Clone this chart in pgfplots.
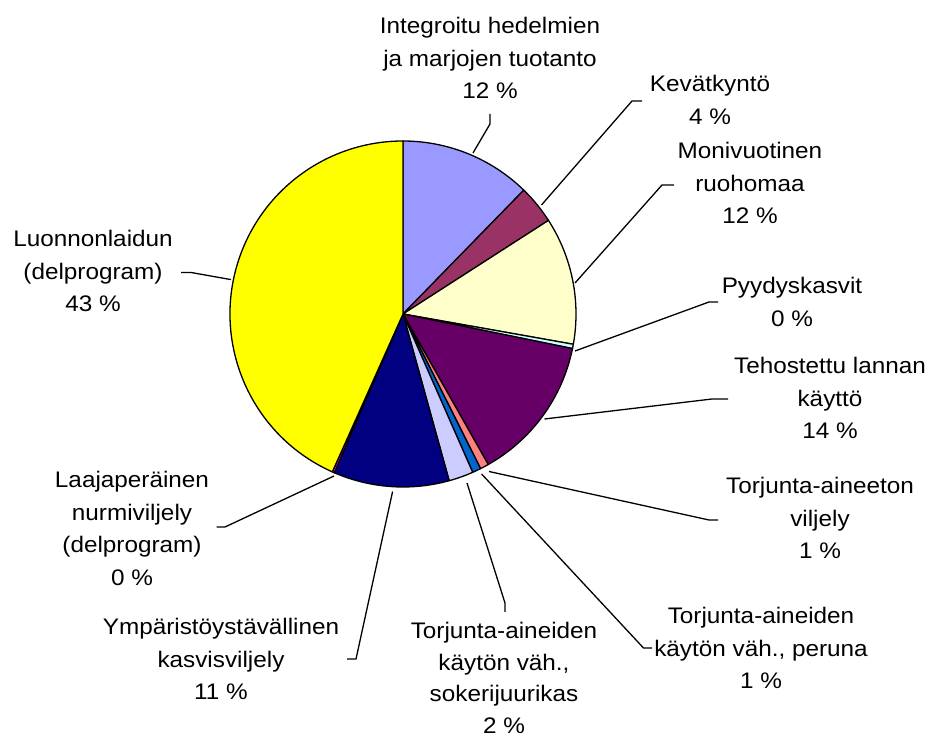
\documentclass[border=0pt]{standalone}
\usepackage{pgfplots}
\pgfplotsset{compat=1.18}
\usepackage{fontspec}
\setmainfont{Liberation Sans}[FakeStretch=1.08]
\definecolor{c1}{HTML}{9999FF}
\definecolor{c2}{HTML}{993366}
\definecolor{c3}{HTML}{FFFFCC}
\definecolor{c4}{HTML}{CCFFFF}
\definecolor{c5}{HTML}{660066}
\definecolor{c6}{HTML}{FF8080}
\definecolor{c7}{HTML}{0066CC}
\definecolor{c8}{HTML}{CCCCFF}
\definecolor{c9}{HTML}{000080}
\definecolor{c10}{HTML}{FF00FF}
\definecolor{c11}{HTML}{FFFF00}
\tikzset{lbl/.style={font=\fontsize{22.5}{32.5}\selectfont, align=center, inner sep=0pt, anchor=center}}
% share (%) / colour, clockwise from 12 o'clock
\def\pievalues{12.3/c1, 3.6/c2, 11.9/c3, 0.4/c4, 13.6/c5, 0.8/c6, 0.8/c7, 2.3/c8, 10.8/c9, 0.2/c10, 43.3/c11}
\begin{document}
\begin{tikzpicture}
\begin{axis}[
  x=1pt, y=1pt,
  xmin=0, xmax=930, ymin=0, ymax=742,
  hide axis, clip=false,
]
\addplot[draw=none] coordinates {(0,0) (930,742)};
\pgfplotsextra{
  \gdef\startang{90}
  \foreach \v/\c in \pievalues {
    \pgfmathsetmacro\endang{\startang-3.6*\v}
    \filldraw[fill=\c, draw=black, line width=1.3pt, line join=round]
      (axis cs:403,428) -- ++(\startang:173pt)
      arc[start angle=\startang, end angle=\endang, radius=173pt] -- cycle;
    \xdef\startang{\endang}
  }
}
% leader lines
\draw[line width=1.3pt] (axis cs:490,628) -- (axis cs:490,618) -- (axis cs:473,589);
\draw[line width=1.3pt] (axis cs:642,641) -- (axis cs:632,641) -- (axis cs:541.5,537);
\draw[line width=1.3pt] (axis cs:674,557) -- (axis cs:662,557) -- (axis cs:575,459);
\draw[line width=1.3pt] (axis cs:718,440) -- (axis cs:709,440) -- (axis cs:575,391);
\draw[line width=1.3pt] (axis cs:728,343) -- (axis cs:712,343) -- (axis cs:544.5,323);
\draw[line width=1.3pt] (axis cs:718,222) -- (axis cs:709,222) -- (axis cs:489,270.5);
\draw[line width=1.3pt] (axis cs:652,94) -- (axis cs:643.5,94) -- (axis cs:481.6,268);
\draw[line width=1.3pt] (axis cs:505,130) -- (axis cs:505,139) -- (axis cs:467,259);
\draw[line width=1.3pt] (axis cs:347,83) -- (axis cs:356,83) -- (axis cs:392.6,250.5);
\draw[line width=1.3pt] (axis cs:216.5,215) -- (axis cs:225,215) -- (axis cs:334,266);
\draw[line width=1.3pt] (axis cs:181,469.5) -- (axis cs:191,469.5) -- (axis cs:231,462.4);
% labels
\node[lbl] at (axis cs:490,684) {Integroitu hedelmien\\ja marjojen tuotanto\\12 \%};
\node[lbl] at (axis cs:710,642) {Kevätkyntö\\4 \%};
\node[lbl] at (axis cs:750,559) {Monivuotinen\\ruohomaa\\12 \%};
\node[lbl] at (axis cs:792,440) {Pyydyskasvit\\0 \%};
\node[lbl] at (axis cs:830,344) {Tehostettu lannan\\käyttö\\14 \%};
\node[lbl] at (axis cs:820,224) {Torjunta-aineeton\\viljely\\1 \%};
\node[lbl] at (axis cs:761,94) {Torjunta-aineiden\\käytön väh., peruna\\1 \%};
\node[lbl, font=\fontsize{22.5}{31.5}\selectfont] at (axis cs:504,64) {Torjunta-aineiden\\käytön väh.,\\sokerijuurikas\\2 \%};
\node[lbl] at (axis cs:221,83) {Ympäristöystävällinen\\kasvisviljely\\11 \%};
\node[lbl] at (axis cs:132,213.5) {Laajaperäinen\\nurmiviljely\\(delprogram)\\0 \%};
\node[lbl] at (axis cs:93,471) {Luonnonlaidun\\(delprogram)\\43 \%};
\end{axis}
\end{tikzpicture}
\end{document}
